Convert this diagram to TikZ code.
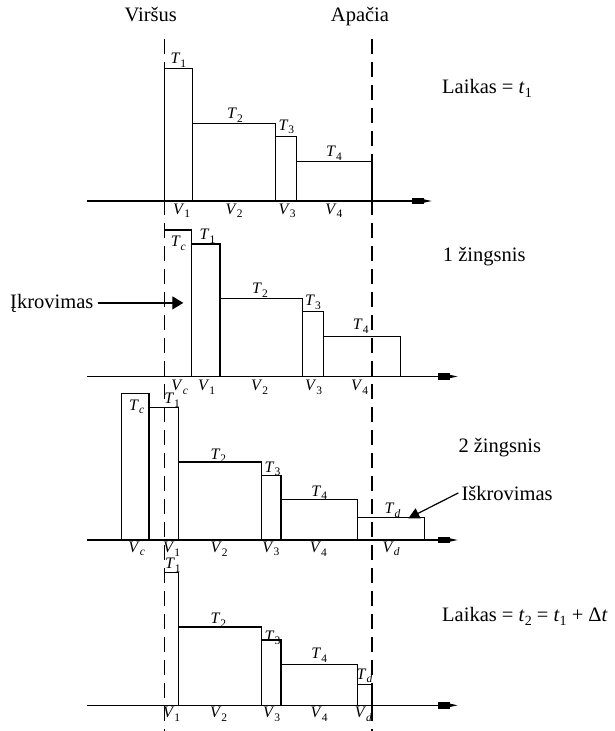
\documentclass[tikz,border=0pt]{standalone}
\usepackage{fontspec}
\setmainfont{Liberation Serif}
\usetikzlibrary{arrows.meta}

% italic symbol with an upright (or given) lowered index
\newcommand\vsub[2]{\textit{#1}\raisebox{-0.22em}{\fontsize{11.5}{12}\selectfont #2}}
\newcommand\tsub[2]{\textit{#1}\raisebox{-0.22em}{\fontsize{14}{14}\selectfont #2}}

\tikzset{
  bar/.style={draw=black, line width=1.1pt},
  guide/.style={draw=black, line width=1.1pt, dash pattern=on 15pt off 8pt},
  axis/.style={draw=black, line width=1.1pt,
    -{Rectangle[length=12pt,width=6.5pt]Triangle[length=8pt,width=3pt]}},
  sym/.style={inner sep=0pt, font=\fontsize{16}{18}\selectfont},
  lab/.style={inner sep=0pt, font=\fontsize{20.5}{24}\selectfont},
  pointer/.style={draw=black, line width=1.2pt, -{Triangle[length=11pt,width=13pt]}}
}

\begin{document}
\begin{tikzpicture}[x=1pt,y=-1pt]
\useasboundingbox (0,0) rectangle (614,731);

% boundary guides (top and bottom of the column)
\coordinate (gLt) at (164.3,39);
\coordinate (gLb) at (164.3,731);
\coordinate (gRt) at (372,39);
\coordinate (gRb) at (372,731);
\draw[guide] (gLt) -- (gLb);
\draw[guide] (gRt) -- (gRb);

\node[lab, anchor=base] (virsus) at (150.8,21) {Viršus};
\node[lab, anchor=base] (apacia) at (360,21) {Apačia};

% ---------- time t1 ----------
\coordinate (o1) at (87,201);
\coordinate (e1) at (432,201);
\draw[axis] (o1) -- (e1);
\draw[bar] (164.3,201) rectangle (192.7,68.7);
\draw[bar] (192.7,201) rectangle (275.7,123.7);
\draw[bar] (275.7,201) rectangle (296.7,136.3);
\draw[bar] (296.7,201) rectangle (372,161.3);
\node[sym] (aT1) at (178.3,60) {\vsub{T}{1}};
\node[sym] (aT2) at (235,115) {\vsub{T}{2}};
\node[sym] (aT3) at (286.3,126.7) {\vsub{T}{3}};
\node[sym] (aT4) at (334,153) {\vsub{T}{4}};
\node[sym] (aV1) at (181.7,210.8) {\vsub{V}{1}};
\node[sym] (aV2) at (234.2,210.8) {\vsub{V}{2}};
\node[sym] (aV3) at (287.2,210.8) {\vsub{V}{3}};
\node[sym] (aV4) at (333.8,210.8) {\vsub{V}{4}};
\node[lab, anchor=base west] (laik1) at (442,93.3) {Laikas = \tsub{t}{1}};

% ---------- step 1 ----------
\coordinate (o2) at (87,376.5);
\coordinate (e2) at (458,376.5);
\draw[axis] (o2) -- (e2);
\draw[bar] (164.3,230) -| (191.7,376.5);
\draw[bar] (191.7,376.5) rectangle (220,244);
\draw[bar] (220,376.5) rectangle (302.7,298.7);
\draw[bar] (302.7,376.5) rectangle (323.7,311.3);
\draw[bar] (323.7,376.5) rectangle (400.3,336.3);
\node[sym] (bTc) at (178.3,243.3) {\vsub{T}{\textit{c}}};
\node[sym] (bT1) at (207.5,236) {\vsub{T}{1}};
\node[sym] (bT2) at (260,290) {\vsub{T}{2}};
\node[sym] (bT3) at (313,302.5) {\vsub{T}{3}};
\node[sym] (bT4) at (360.7,326.3) {\vsub{T}{4}};
\node[sym] (bVc) at (179.7,387.5) {\vsub{V}{\textit{c}}};
\node[sym] (bV1) at (206.7,387.5) {\vsub{V}{1}};
\node[sym] (bV2) at (259.7,387.5) {\vsub{V}{2}};
\node[sym] (bV3) at (313.7,387.5) {\vsub{V}{3}};
\node[sym] (bV4) at (359.7,387.5) {\vsub{V}{4}};
\node[lab, anchor=base west] (step1) at (442.7,261) {1 žingsnis};
\node[lab, anchor=base west, inner xsep=4pt] (ikr) at (6,308) {Įkrovimas};
\coordinate (ikrTip) at (183.3,303.3);
\draw[pointer] (ikr.east) -- (ikr.east -| ikrTip);

% ---------- step 2 ----------
\coordinate (o3) at (87,540);
\coordinate (e3) at (458,540);
\draw[axis] (o3) -- (e3);
\draw[bar] (121.7,540) rectangle (149,393.3);
\draw[bar] (149,540) rectangle (178.7,407.7);
\draw[bar] (178.7,540) rectangle (261.7,462);
\draw[bar] (261.7,540) rectangle (281,475.3);
\draw[bar] (281,540) rectangle (357.3,499.7);
\draw[bar] (357.3,540) rectangle (424.3,517.7);
\node[sym] (cTc) at (136.7,406.7) {\vsub{T}{\textit{c}}};
\node[sym] (cT1) at (172.2,400) {\vsub{T}{1}};
\node[sym] (cT2) at (218.3,455.8) {\vsub{T}{2}};
\node[sym] (cT3) at (272.5,468.7) {\vsub{T}{3}};
\node[sym] (cT4) at (319.2,492.7) {\vsub{T}{4}};
\node[sym] (cTd) at (392.5,510.3) {\vsub{T}{\textit{d}}};
\node[sym] (cVc) at (136.7,549) {\vsub{V}{\textit{c}}};
\node[sym] (cV1) at (171.7,549) {\vsub{V}{1}};
\node[sym] (cV2) at (219.2,549) {\vsub{V}{2}};
\node[sym] (cV3) at (270.8,549) {\vsub{V}{3}};
\node[sym] (cV4) at (318.3,549) {\vsub{V}{4}};
\node[sym] (cVd) at (391.2,549) {\vsub{V}{\textit{d}}};
\node[lab, anchor=base west] (step2) at (458.3,452.5) {2 žingsnis};
\node[lab, anchor=base west, inner xsep=3pt] (iskr) at (458.3,500) {Iškrovimas};
\coordinate (iskrTip) at (408.3,518.3);
\draw[pointer, -{Triangle[length=11pt,width=11pt]}] (iskr.west) -- (iskrTip);

% ---------- time t2 ----------
\coordinate (o4) at (87,705.3);
\coordinate (e4) at (458,705.3);
\draw[axis] (o4) -- (e4);
\draw[bar] (164.3,572.7) -| (178.3,705.3);
\draw[bar] (178.3,705.3) rectangle (261.7,627);
\draw[bar] (261.7,705.3) rectangle (281,640);
\draw[bar] (281,705.3) rectangle (357.3,664.7);
\draw[bar] (357.3,705.3) rectangle (372,684.3);
\node[sym] (dT1) at (172.8,565.5) {\vsub{T}{1}};
\node[sym] (dT2) at (218.3,620) {\vsub{T}{2}};
\node[sym] (dT3) at (272.5,638) {\vsub{T}{3}};
\node[sym] (dT4) at (319.2,655) {\vsub{T}{4}};
\node[sym] (dTd) at (364.5,675.8) {\vsub{T}{\textit{d}}};
\node[sym] (dV1) at (171.7,714.2) {\vsub{V}{1}};
\node[sym] (dV2) at (218.7,714.2) {\vsub{V}{2}};
\node[sym] (dV3) at (271.7,714.2) {\vsub{V}{3}};
\node[sym] (dV4) at (319.2,714.2) {\vsub{V}{4}};
\node[sym] (dVd) at (363.3,714.2) {\vsub{V}{\textit{d}}};
\node[lab, anchor=base west] (laik2) at (442,621)
  {Laikas = \tsub{t}{2} = \tsub{t}{1} + Δ\textit{t}};
\end{tikzpicture}
\end{document}
